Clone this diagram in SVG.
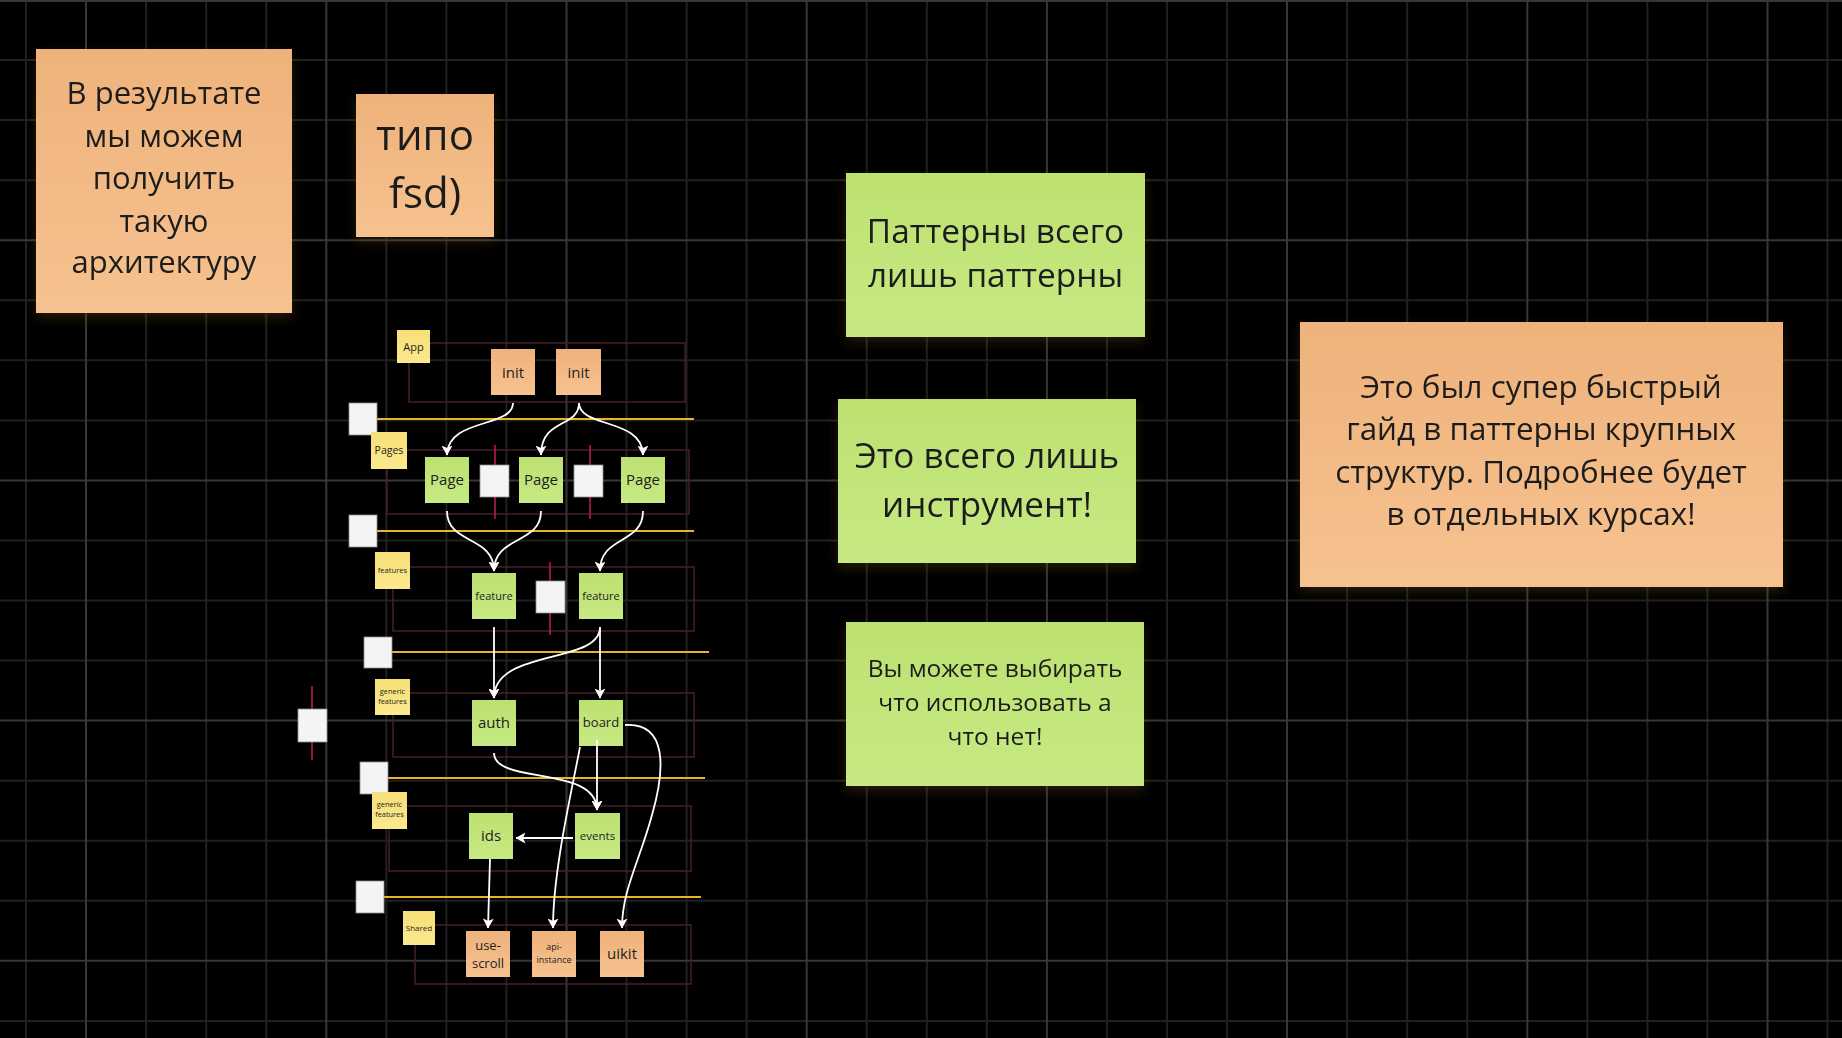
<svg xmlns="http://www.w3.org/2000/svg" width="1842" height="1038" viewBox="0 0 1842 1038">
<defs>
<style>
.minor{stroke:#202020;stroke-width:2;fill:none}
.major{stroke:#373737;stroke-width:2;fill:none}
.frame{fill:none;stroke:#4a1f28;stroke-width:1.5}
.ydiv{stroke:#e8b623;stroke-width:2}
.rdiv{stroke:#c8185a;stroke-width:1.5}
.wsq{fill:#f3f4f6;stroke:#8e8e8e;stroke-width:0.8}
.or{fill:url(#gOr)}
.gr{fill:url(#gGr)}
.ye{fill:url(#gYe)}
.t{font-family:"Open Sans","Noto Sans","Liberation Sans",sans-serif;fill:#1e1e1e;text-anchor:middle}
.conn{fill:none;stroke:#ffffff;stroke-width:1.8}
</style>
<linearGradient id="gOr" x1="0" y1="0" x2="0" y2="1"><stop offset="0" stop-color="#efb27b"/><stop offset="1" stop-color="#f6c28f"/></linearGradient>
<linearGradient id="gGr" x1="0" y1="0" x2="0" y2="1"><stop offset="0" stop-color="#bce170"/><stop offset="1" stop-color="#c7e984"/></linearGradient>
<linearGradient id="gYe" x1="0" y1="0" x2="0" y2="1"><stop offset="0" stop-color="#f7df77"/><stop offset="1" stop-color="#fbe98f"/></linearGradient>
<filter id="sh" x="-10%" y="-10%" width="120%" height="130%"><feDropShadow dx="0" dy="5" stdDeviation="6" flood-color="#6b4a20" flood-opacity="0.35"/></filter>
<marker id="arr" markerUnits="userSpaceOnUse" viewBox="0 0 10 11" markerWidth="10" markerHeight="11" refX="9.5" refY="5.5" orient="auto">
<path d="M0,0 L10,5.5 L0,11 L2.5,5.5 Z" fill="#ffffff"/>
</marker>
</defs>
<rect width="1842" height="1038" fill="#000000"/>
<g id="grid">
<path class="minor" d="M26,0V1038M146.1,0V1038M206.2,0V1038M266.2,0V1038M386.3,0V1038M446.4,0V1038M506.4,0V1038M626.5,0V1038M686.6,0V1038M746.6,0V1038M866.7,0V1038M926.8,0V1038M986.8,0V1038M1106.9,0V1038M1167,0V1038M1227,0V1038M1347.1,0V1038M1407.2,0V1038M1467.2,0V1038M1587.3,0V1038M1647.4,0V1038M1707.4,0V1038M1827.5,0V1038M0,60H1842M0,120.1H1842M0,180.2H1842M0,300.3H1842M0,360.3H1842M0,420.4H1842M0,540.5H1842M0,600.5H1842M0,660.6H1842M0,780.7H1842M0,840.7H1842M0,900.8H1842M0,1020.9H1842"/>
<path class="major" d="M86,0V1038M326.3,0V1038M566.5,0V1038M806.7,0V1038M1046.9,0V1038M1287,0V1038M1527.3,0V1038M1767.5,0V1038M0,1H1842M0,240.2H1842M0,480.4H1842M0,720.6H1842M0,960.8H1842"/>
</g>

<g id="note-result" filter="url(#sh)">
<rect class="or" x="36" y="49" width="256" height="264"/>
<text class="t" font-size="31"><tspan x="164" y="104">В результате</tspan><tspan x="164" y="147">мы можем</tspan><tspan x="164" y="189">получить</tspan><tspan x="164" y="232">такую</tspan><tspan x="164" y="273">архитектуру</tspan></text>
</g>
<g id="note-fsd" filter="url(#sh)">
<rect class="or" x="356" y="94" width="138" height="143"/>
<text class="t" font-size="42"><tspan x="425" y="150">типо</tspan><tspan x="425" y="208">fsd)</tspan></text>
</g>
<g id="note-patterns" filter="url(#sh)">
<rect class="gr" x="846" y="173" width="299" height="164"/>
<text class="t" font-size="33.4"><tspan x="995.5" y="243">Паттерны всего</tspan><tspan x="995.5" y="287">лишь паттерны</tspan></text>
</g>
<g id="note-tool" filter="url(#sh)">
<rect class="gr" x="838" y="399" width="298" height="164"/>
<text class="t" font-size="35"><tspan x="987" y="468">Это всего лишь</tspan><tspan x="987" y="517">инструмент!</tspan></text>
</g>
<g id="note-choose" filter="url(#sh)">
<rect class="gr" x="846" y="622" width="298" height="164"/>
<text class="t" font-size="24.5"><tspan x="995" y="677">Вы можете выбирать</tspan><tspan x="995" y="711">что использовать а</tspan><tspan x="995" y="745">что нет!</tspan></text>
</g>
<g id="note-guide" filter="url(#sh)">
<rect class="or" x="1300" y="322" width="483" height="265"/>
<text class="t" font-size="31.4"><tspan x="1541" y="398">Это был супер быстрый</tspan><tspan x="1541" y="440">гайд в паттерны крупных</tspan><tspan x="1541" y="483">структур. Подробнее будет</tspan><tspan x="1541" y="525">в отдельных курсах!</tspan></text>
</g>

<g id="layer-frames">
<rect class="frame" x="409" y="343" width="276" height="59"/>
<rect class="frame" x="387" y="450" width="302" height="64"/>
<rect class="frame" x="393" y="567" width="301" height="64"/>
<rect class="frame" x="393" y="693" width="301" height="64"/>
<rect class="frame" x="389" y="806" width="302" height="65"/>
<rect class="frame" x="415" y="925" width="276" height="59"/>
</g>
<g id="layer-dividers">
<line class="ydiv" x1="377" y1="419" x2="694" y2="419"/>
<line class="ydiv" x1="377" y1="531" x2="694" y2="531"/>
<line class="ydiv" x1="392" y1="652" x2="709" y2="652"/>
<line class="ydiv" x1="388" y1="778" x2="705" y2="778"/>
<line class="ydiv" x1="384" y1="897" x2="701" y2="897"/>
<line class="rdiv" x1="495" y1="445" x2="495" y2="519"/>
<line class="rdiv" x1="590" y1="445" x2="590" y2="519"/>
<line class="rdiv" x1="550" y1="562" x2="550" y2="635"/>
<line class="rdiv" x1="312" y1="686" x2="312" y2="760"/>
<rect class="wsq" x="349" y="403" width="28" height="32"/>
<rect class="wsq" x="349" y="515" width="28" height="32"/>
<rect class="wsq" x="364" y="637" width="28" height="31"/>
<rect class="wsq" x="360" y="762" width="28" height="32"/>
<rect class="wsq" x="356" y="881" width="28" height="32"/>
<rect class="wsq" x="480" y="465" width="29" height="32"/>
<rect class="wsq" x="574" y="465" width="29" height="32"/>
<rect class="wsq" x="536" y="581" width="29" height="32"/>
<rect class="wsq" x="298" y="709" width="29" height="33"/>
</g>

<g id="label-app"><rect class="ye" x="397" y="330" width="33" height="33"/><text class="t" font-size="11" x="413.5" y="350.5">App</text></g>
<g id="label-pages"><rect class="ye" x="371" y="432" width="36" height="37"/><text class="t" font-size="10.5" x="389" y="454">Pages</text></g>
<g id="label-features"><rect class="ye" x="375" y="552" width="35" height="37"/><text class="t" font-size="7.6" x="392.5" y="573">features</text></g>
<g id="label-generic1"><rect class="ye" x="375" y="679" width="35" height="36"/><text class="t" font-size="7.4"><tspan x="392.5" y="694">generic</tspan><tspan x="392.5" y="704">features</tspan></text></g>
<g id="label-generic2"><rect class="ye" x="372" y="792" width="35" height="37"/><text class="t" font-size="7.4"><tspan x="389.5" y="807">generic</tspan><tspan x="389.5" y="817">features</tspan></text></g>
<g id="label-shared"><rect class="ye" x="403" y="911" width="32" height="34"/><text class="t" font-size="8" x="419" y="930.5">Shared</text></g>

<g id="init1"><rect class="or" x="491" y="349" width="44" height="46"/><text class="t" font-size="15" x="513" y="378">init</text></g>
<g id="init2"><rect class="or" x="556" y="349" width="45" height="46"/><text class="t" font-size="15" x="578.5" y="378">init</text></g>
<g id="page1"><rect class="gr" x="425" y="457" width="44" height="46"/><text class="t" font-size="15" x="447" y="485">Page</text></g>
<g id="page2"><rect class="gr" x="519" y="457" width="44" height="46"/><text class="t" font-size="15" x="541" y="485">Page</text></g>
<g id="page3"><rect class="gr" x="621" y="457" width="44" height="46"/><text class="t" font-size="15" x="643" y="485">Page</text></g>
<g id="feature1"><rect class="gr" x="472" y="573" width="44" height="46"/><text class="t" font-size="11" x="494" y="600">feature</text></g>
<g id="feature2"><rect class="gr" x="579" y="573" width="44" height="46"/><text class="t" font-size="11" x="601" y="600">feature</text></g>
<g id="auth"><rect class="gr" x="472" y="700" width="44" height="46"/><text class="t" font-size="15" x="494" y="728">auth</text></g>
<g id="board"><rect class="gr" x="579" y="700" width="44" height="46"/><text class="t" font-size="13" x="601" y="727">board</text></g>
<g id="ids"><rect class="gr" x="469" y="813" width="44" height="46"/><text class="t" font-size="15" x="491" y="841">ids</text></g>
<g id="events"><rect class="gr" x="575" y="813" width="45" height="46"/><text class="t" font-size="11.5" x="597.5" y="840">events</text></g>
<g id="use-scroll"><rect class="or" x="466" y="931" width="44" height="46"/><text class="t" font-size="13"><tspan x="488" y="950">use-</tspan><tspan x="488" y="967.5">scroll</tspan></text></g>
<g id="api-instance"><rect class="or" x="532" y="931" width="44" height="46"/><text class="t" font-size="9"><tspan x="554" y="950">api-</tspan><tspan x="554" y="963">instance</tspan></text></g>
<g id="uikit"><rect class="or" x="600" y="931" width="44" height="46"/><text class="t" font-size="15" x="622" y="959">uikit</text></g>

<g id="connectors" class="conn" marker-end="url(#arr)">
<path d="M513,403 C513,428 447,418 447,455"/>
<path d="M579,403 C579,428 541,418 541,455"/>
<path d="M579,403 C579,428 643,418 643,455"/>
<path d="M447,511 C447,545 494,535 494,571"/>
<path d="M541,511 C541,545 494,535 494,571"/>
<path d="M643,511 C643,545 600,535 600,571"/>
<path d="M494,627 L494,698"/>
<path d="M600,627 C600,665 494,648 494,698"/>
<path d="M600,627 L600,698"/>
<path d="M494,753 C494,785 597,765 597,810"/>
<path d="M597,740 L597,810"/>
<path d="M580,747 C572,790 553,870 553,928"/>
<path d="M625,725 C668,722 665,770 652,815 C640,860 622,890 622,928"/>
<path d="M573,838 L516,838"/>
<path d="M490,859 L488,928"/>
</g>
</svg>
